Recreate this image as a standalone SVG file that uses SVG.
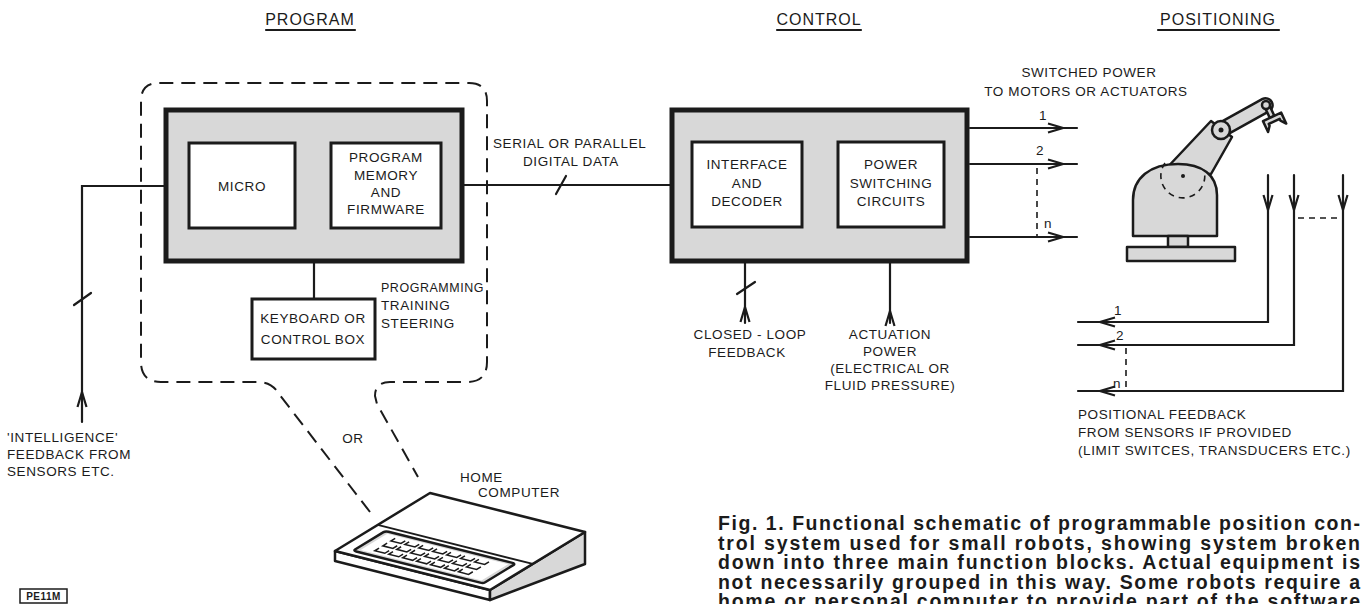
<svg xmlns="http://www.w3.org/2000/svg" width="1367" height="604" viewBox="0 0 1367 604">
<style>
  .ln{stroke:#1b1b1b;stroke-width:2.2;fill:none;stroke-linecap:round}
  .frame{stroke:#1b1b1b;stroke-width:5;fill:#d8d8d8}
  .box{stroke:#1b1b1b;stroke-width:3;fill:#fff}
  .shade{fill:#d8d8d8;stroke:#1b1b1b;stroke-width:2.5;stroke-linejoin:round}
  .plain{fill:#fff;stroke:#1b1b1b;stroke-width:2.5;stroke-linejoin:round}
  .dash{stroke:#1b1b1b;stroke-width:2;fill:none;stroke-dasharray:14 8}
  .dsh{stroke:#1b1b1b;stroke-width:1.6;fill:none;stroke-dasharray:6 5}
  text{font-family:"Liberation Sans",Arial,sans-serif;fill:#1b1b1b}
  .t{font-size:13.5px;letter-spacing:0.6px}
  .title{font-size:16px;letter-spacing:1px}
  .cap{font-size:19.5px;font-weight:bold}
  .tag{font-size:10px;font-weight:bold;letter-spacing:0.5px}
</style>
<defs>
  <path id="chev" d="M-15,-4.5 L0,0 L-15,4.5" fill="none" stroke="#1b1b1b" stroke-width="2.2" stroke-linejoin="miter"/>
  <path id="key" d="M0,0 v4.5 h6.5 v-4.5" fill="none" stroke="#1b1b1b" stroke-width="1.5" vector-effect="non-scaling-stroke"/>
</defs>
<rect width="1367" height="604" fill="#fff"/>

<!-- column headings -->
<g id="headings">
  <text class="title" x="310" y="25" text-anchor="middle">PROGRAM</text>
  <line class="ln" x1="266" y1="30" x2="355" y2="30" stroke-width="1.6"/>
  <text class="title" x="819" y="25" text-anchor="middle">CONTROL</text>
  <line class="ln" x1="777" y1="30" x2="861" y2="30" stroke-width="1.6"/>
  <text class="title" x="1218" y="25" text-anchor="middle">POSITIONING</text>
  <line class="ln" x1="1158" y1="30" x2="1279" y2="30" stroke-width="1.6"/>
</g>

<!-- connectors -->
<g id="connectors">
  <!-- dashed grouping round the program unit, opening towards the home computer -->
  <path class="dash" d="M370,512 L279,394 Q272,382 258,382 L161,382 Q141,382 141,362 L141,101 Q141,83 159,83 L469,83 Q487,83 487,101 L487,362 Q487,382 467,382 L390,382 Q375,382 375,396 L377,404 L418,477"/>
  <text class="t" x="353" y="443" text-anchor="middle">OR</text>

  <!-- intelligence feedback into the program unit -->
  <path class="ln" d="M82,422 V186 H164"/>
  <line class="ln" x1="74" y1="305" x2="91" y2="293"/>
  <use href="#chev" transform="translate(82,392) rotate(-90)"/>

  <!-- serial / parallel data link -->
  <line class="ln" x1="464" y1="185" x2="670" y2="185"/>
  <line class="ln" x1="556" y1="194" x2="566" y2="176"/>

  <!-- keyboard link -->
  <line class="ln" x1="314" y1="263" x2="314" y2="299"/>

  <!-- inner links -->
  <line class="ln" x1="295" y1="165" x2="331" y2="165" stroke-width="3"/>
  <line class="ln" x1="295" y1="203" x2="331" y2="203" stroke-width="3"/>
  <line class="ln" x1="802" y1="184" x2="838" y2="184" stroke-width="3"/>

  <!-- closed-loop feedback and actuation power -->
  <line class="ln" x1="745" y1="262" x2="745" y2="323"/>
  <line class="ln" x1="737" y1="294" x2="755" y2="282"/>
  <use href="#chev" transform="translate(745,307) rotate(-90)"/>
  <line class="ln" x1="890" y1="262" x2="890" y2="323"/>
  <use href="#chev" transform="translate(890,311) rotate(-90)"/>

  <!-- switched power outputs -->
  <line class="ln" x1="970" y1="128" x2="1077" y2="128"/>
  <use href="#chev" x="1063" y="128"/>
  <line class="ln" x1="970" y1="164" x2="1077" y2="164"/>
  <use href="#chev" x="1063" y="164"/>
  <line class="ln" x1="970" y1="237" x2="1077" y2="237"/>
  <use href="#chev" x="1063" y="237"/>
  <line class="dsh" x1="1037" y1="168" x2="1037" y2="236"/>
  <text class="t" x="1043" y="120" text-anchor="middle">1</text>
  <text class="t" x="1040" y="155" text-anchor="middle">2</text>
  <text class="t" x="1048" y="228" text-anchor="middle">n</text>

  <!-- positional feedback returns -->
  <path class="ln" d="M1268,175 V322 H1078"/>
  <path class="ln" d="M1294,175 V345 H1078"/>
  <path class="ln" d="M1343,175 V391 H1078"/>
  <use href="#chev" transform="translate(1268,210) rotate(90)"/>
  <use href="#chev" transform="translate(1294,210) rotate(90)"/>
  <use href="#chev" transform="translate(1343,210) rotate(90)"/>
  <line class="dsh" x1="1298" y1="218" x2="1340" y2="218"/>
  <use href="#chev" transform="translate(1100,322) rotate(180)"/>
  <use href="#chev" transform="translate(1100,345) rotate(180)"/>
  <use href="#chev" transform="translate(1100,391) rotate(180)"/>
  <line class="dsh" x1="1126" y1="348" x2="1126" y2="390"/>
  <text class="t" x="1118" y="315" text-anchor="middle">1</text>
  <text class="t" x="1120" y="340" text-anchor="middle">2</text>
  <text class="t" x="1117" y="388" text-anchor="middle">n</text>
</g>

<!-- program unit -->
<g id="program-unit">
  <rect class="frame" x="166" y="110" width="296" height="151"/>
</g>
<g id="micro">
  <rect class="box" x="189" y="143" width="106" height="85"/>
  <text class="t" x="242" y="191" text-anchor="middle">MICRO</text>
</g>
<g id="program-memory">
  <rect class="box" x="331" y="143" width="110" height="85"/>
  <text class="t" x="386" y="162" text-anchor="middle">PROGRAM</text>
  <text class="t" x="386" y="180" text-anchor="middle">MEMORY</text>
  <text class="t" x="386" y="197" text-anchor="middle">AND</text>
  <text class="t" x="386" y="214" text-anchor="middle">FIRMWARE</text>
</g>
<g id="keyboard">
  <rect class="box" x="252" y="299" width="123" height="60"/>
  <text class="t" x="313" y="323" text-anchor="middle">KEYBOARD OR</text>
  <text class="t" x="313" y="344" text-anchor="middle">CONTROL BOX</text>
</g>
<g id="program-notes">
  <text class="t" x="381" y="292" textLength="103" lengthAdjust="spacingAndGlyphs">PROGRAMMING</text>
  <text class="t" x="381" y="310">TRAINING</text>
  <text class="t" x="381" y="328">STEERING</text>
  <text class="t" x="493" y="148">SERIAL OR PARALLEL</text>
  <text class="t" x="523" y="166">DIGITAL DATA</text>
</g>
<g id="intelligence-label">
  <text class="t" x="7" y="442">'INTELLIGENCE'</text>
  <text class="t" x="7" y="459">FEEDBACK FROM</text>
  <text class="t" x="7" y="476">SENSORS ETC.</text>
</g>

<!-- control unit -->
<g id="control-unit">
  <rect class="frame" x="672" y="110" width="295" height="151"/>
</g>
<g id="interface">
  <rect class="box" x="692" y="142" width="110" height="85"/>
  <text class="t" x="747" y="169" text-anchor="middle">INTERFACE</text>
  <text class="t" x="747" y="188" text-anchor="middle">AND</text>
  <text class="t" x="747" y="206" text-anchor="middle">DECODER</text>
</g>
<g id="power-switching">
  <rect class="box" x="838" y="142" width="106" height="85"/>
  <text class="t" x="891" y="169" text-anchor="middle">POWER</text>
  <text class="t" x="891" y="188" text-anchor="middle">SWITCHING</text>
  <text class="t" x="891" y="206" text-anchor="middle">CIRCUITS</text>
</g>
<g id="control-notes">
  <text class="t" x="750" y="339" text-anchor="middle">CLOSED - LOOP</text>
  <text class="t" x="747" y="357" text-anchor="middle">FEEDBACK</text>
  <text class="t" x="890" y="339" text-anchor="middle">ACTUATION</text>
  <text class="t" x="890" y="356" text-anchor="middle">POWER</text>
  <text class="t" x="890" y="373" text-anchor="middle">(ELECTRICAL OR</text>
  <text class="t" x="890" y="390" text-anchor="middle">FLUID PRESSURE)</text>
  <text class="t" x="1089" y="77" text-anchor="middle">SWITCHED POWER</text>
  <text class="t" x="1086" y="96" text-anchor="middle">TO MOTORS OR ACTUATORS</text>
</g>

<!-- robot arm -->
<g id="robot">
  <path class="shade" d="M1163,172 L1211,174 L1232,137 L1211,121 Z"/>
  <path class="shade" d="M1217.6,123.9 L1262.6,98.9 A7,7 0 0,1 1269.4,111.1 L1224.4,136.1 Z"/>
  <circle class="shade" cx="1221" cy="130" r="9"/>
  <circle cx="1221" cy="130" r="2.5" fill="#1b1b1b"/>
  <g transform="translate(1267,106) rotate(-25)">
    <rect class="shade" x="-2.5" y="2" width="5" height="10"/>
    <path class="shade" d="M-10,12 H10 V24 L6,19 V17 H-6 V19 L-10,24 Z"/>
  </g>
  <circle class="shade" cx="1266" cy="105" r="4" stroke-width="2"/>
  <path class="shade" d="M1133,236 V200 C1133,178 1150,164 1178,164 C1202,164 1217,175 1217,195 V236 Z"/>
  <path class="dsh" d="M1165,163 A22,22 0 1,0 1204,170" stroke-width="2"/>
  <circle cx="1183" cy="176" r="2" fill="#1b1b1b"/>
  <rect class="shade" x="1168" y="236" width="20" height="11"/>
  <rect class="shade" x="1127" y="247" width="108" height="14"/>
</g>
<g id="feedback-label">
  <text class="t" x="1078" y="419">POSITIONAL  FEEDBACK</text>
  <text class="t" x="1078" y="437">FROM SENSORS IF PROVIDED</text>
  <text class="t" x="1078" y="455">(LIMIT SWITCES, TRANSDUCERS ETC.)</text>
</g>

<!-- home computer -->
<g id="home-computer">
  <text class="t" x="460" y="482">HOME</text>
  <text class="t" x="478" y="497">COMPUTER</text>
  <path class="plain" d="M335,551 L490,590 L490,600 L335,561 Z"/>
  <path class="shade" d="M490,590 L585,532 L585,564 L490,600 Z"/>
  <path class="plain" d="M335,551 L430,493 L585,532 L490,590 Z"/>
  <g transform="matrix(1.55,0.39,-0.95,0.58,377.75,524.9)">
    <line x1="0" y1="0" x2="100" y2="0" stroke="#1b1b1b" stroke-width="2" vector-effect="non-scaling-stroke"/>
    <rect x="8" y="5" width="84" height="34" rx="2" fill="#d8d8d8" stroke="#1b1b1b" stroke-width="2.5" vector-effect="non-scaling-stroke"/>
    <rect x="11" y="8" width="78" height="28" fill="#fff" stroke="none"/>
    <use href="#key" x="18" y="11"/><use href="#key" x="27" y="11"/><use href="#key" x="36" y="11"/><use href="#key" x="45" y="11"/><use href="#key" x="54" y="11"/><use href="#key" x="63" y="11"/><use href="#key" x="72" y="11"/>
    <use href="#key" x="18" y="19.5"/><use href="#key" x="27" y="19.5"/><use href="#key" x="36" y="19.5"/><use href="#key" x="45" y="19.5"/><use href="#key" x="54" y="19.5"/><use href="#key" x="63" y="19.5"/><use href="#key" x="72" y="19.5"/>
    <use href="#key" x="18" y="28"/><use href="#key" x="27" y="28"/><use href="#key" x="36" y="28"/><use href="#key" x="45" y="28"/><use href="#key" x="54" y="28"/><use href="#key" x="63" y="28"/><use href="#key" x="72" y="28"/>
  </g>
</g>

<!-- figure caption, justified to a fixed column width -->
<g id="caption">
  <text class="cap" x="718" y="530" textLength="642" lengthAdjust="spacing">Fig. 1. Functional schematic of programmable position con-</text>
  <text class="cap" x="718" y="549.5" textLength="642" lengthAdjust="spacing">trol system used for small robots, showing system broken</text>
  <text class="cap" x="718" y="569" textLength="642" lengthAdjust="spacing">down into three main function blocks. Actual equipment is</text>
  <text class="cap" x="718" y="588.5" textLength="642" lengthAdjust="spacing">not necessarily grouped in this way. Some robots require a</text>
  <text class="cap" x="718" y="608" textLength="642" lengthAdjust="spacing">home or personal computer to provide part of the software</text>
</g>

<g id="tag">
  <rect x="20" y="589" width="47" height="14" fill="none" stroke="#1b1b1b" stroke-width="1.5"/>
  <text class="tag" x="43.5" y="600" text-anchor="middle">PE11M</text>
</g>
</svg>
